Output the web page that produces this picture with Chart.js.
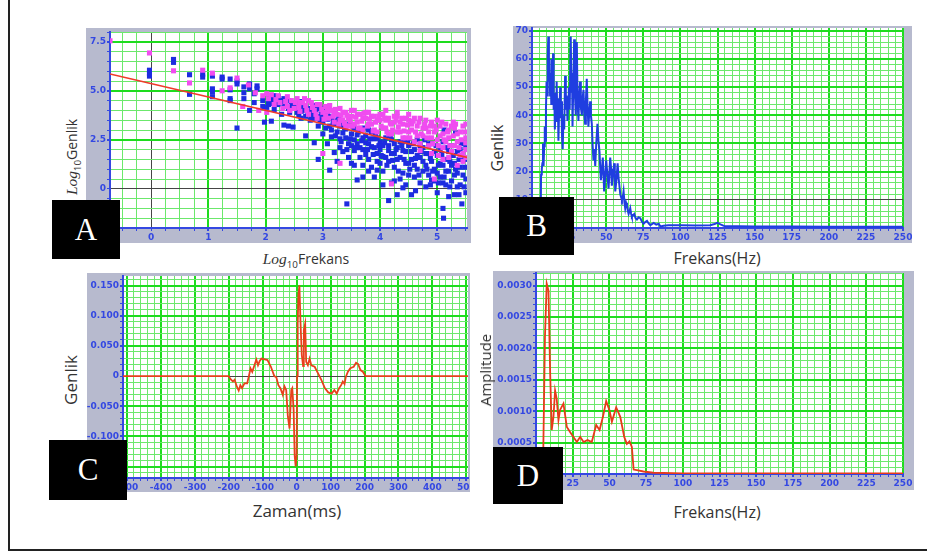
<!DOCTYPE html>
<html>
<head>
<meta charset="utf-8">
<script src="https://cdn.jsdelivr.net/npm/chart.js@4.4.0/dist/chart.umd.min.js"></script>
<style>
body{margin:0;background:#fff;width:927px;height:553px;overflow:hidden;position:relative;font-family:"Open Sans",sans-serif}
.frame{position:absolute;left:8px;top:-2px;width:940px;height:551px;border-left:2px solid #222;border-bottom:2px solid #222}
.panel{position:absolute}
.tag{position:absolute;background:#000;color:#fff;font-family:"Liberation Serif",serif;font-size:31px;display:flex;align-items:center;justify-content:center}
.ttl{position:absolute;color:#333;white-space:nowrap;transform:translate(-50%,-50%)}
.rot{transform:translate(-50%,-50%) rotate(-90deg)}
.ttl i{font-family:"Liberation Serif",serif;font-size:1.1em}
.ttl sub{font-size:0.7em}
</style>
</head>
<body>
<div class="frame"></div>

<div class="panel" style="left:86px;top:28px;width:385px;height:215px"><canvas id="chartA"></canvas></div>
<div class="panel" style="left:513px;top:26px;width:399px;height:217px"><canvas id="chartB"></canvas></div>
<div class="panel" style="left:87px;top:273px;width:383px;height:219px"><canvas id="chartC"></canvas></div>
<div class="panel" style="left:493px;top:271px;width:421px;height:219px"><canvas id="chartD"></canvas></div>

<div class="ttl rot" style="left:73px;top:157px;font-size:14px"><i>Log</i><sub>10</sub>Genlik</div>
<div class="ttl" style="left:306px;top:260px;font-size:14px"><i>Log</i><sub>10</sub>Frekans</div>
<div class="ttl rot" style="left:497px;top:148px;font-size:16px">Genlik</div>
<div class="ttl" style="left:717px;top:258px;font-size:16px">Frekans(Hz)</div>
<div class="ttl rot" style="left:70px;top:380px;font-size:17px">Genlik</div>
<div class="ttl" style="left:297px;top:510px;font-size:17px">Zaman(ms)</div>
<div class="ttl rot" style="left:485px;top:370px;font-size:15px">Amplitude</div>
<div class="ttl" style="left:717px;top:512px;font-size:16px">Frekans(Hz)</div>

<div class="tag" style="left:52px;top:200px;width:68px;height:59px">A</div>
<div class="tag" style="left:499px;top:197px;width:75px;height:58px">B</div>
<div class="tag" style="left:49px;top:440px;width:78px;height:60px">C</div>
<div class="tag" style="left:493px;top:447px;width:70px;height:57px">D</div>

<script>
// A: log-log scatter (x = log10 frekans, y = log10 genlik)
const aBlue = [[-0.03,6.05],[-0.03,5.9],[-0.03,5.75],[0.39,6.6],[0.39,6.45],[0.67,5.82],[0.67,4.82],[0.9,5.85],[0.9,5.7],[1.07,5.75],[1.07,5.1],[1.07,4.95],[1.07,4.7],[1.24,5.7],[1.24,5.6],[1.38,5.6],[1.38,5.05],[1.38,4.6],[1.38,4.5],[1.5,3.1],[1.5,5.35],[1.5,5.5],[1.62,5.2],[1.62,4.9],[1.62,4.6],[1.72,5.35],[1.72,4.0],[1.72,5.1],[1.8,4.85],[1.8,4.4],[1.85,5.25],[1.85,5.1],[1.95,4.5],[1.95,4.2],[1.98,3.4],[2.05,4.6],[2.05,4.45],[2.05,4.3],[2.1,3.45],[2.1,4.55],[2.15,4.75],[2.15,4.5],[2.15,4.05],[2.22,4.7],[2.22,4.3],[2.22,4.55],[2.28,3.8],[2.28,4.4],[2.32,4.6],[2.32,4.2],[2.32,3.25],[2.4,4.5],[2.4,4.1],[2.4,3.2],[2.48,4.4],[2.48,3.15],[2.48,4.25],[2.55,3.9],[2.55,4.35],[2.55,4.1],[2.62,4.3],[2.62,3.6],[2.62,3.95],[2.7,4.2],[2.7,3.7],[2.7,2.7],[2.7,4.0],[2.78,4.1],[2.78,3.5],[2.78,3.85],[2.85,4.25],[2.85,3.9],[2.85,2.35],[2.85,3.6],[2.92,3.7],[2.92,3.2],[2.92,1.5],[2.92,4.1],[3.0,4.1],[3.0,3.4],[3.0,2.8],[3.0,3.75],[3.08,3.9],[3.08,2.3],[3.08,3.55],[3.12,0.95],[3.12,3.2],[3.15,3.6],[3.15,3.0],[3.15,2.65],[3.2,1.85],[3.2,3.3],[3.2,3.85],[3.25,1.4],[3.25,2.9],[3.25,3.5],[3.3,2.1],[3.3,3.2],[3.3,2.55],[3.35,1.9],[3.35,3.35],[3.35,2.85],[3.42,-0.77],[3.4,2.6],[3.4,3.05],[3.45,1.6],[3.45,2.3],[3.45,3.3],[3.5,2.2],[3.5,2.8],[3.5,1.3],[3.55,2.5],[3.55,3.1],[3.55,1.95],[3.6,0.45],[3.6,2.3],[3.6,2.75],[3.65,1.6],[3.65,3.0],[3.65,2.1],[3.7,2.0],[3.7,2.6],[3.7,1.2],[3.75,2.7],[3.75,1.75],[3.75,2.35],[3.8,0.9],[3.8,2.3],[3.8,3.0],[3.8,1.5],[3.85,2.9],[3.85,1.1],[3.85,2.15],[3.9,2.1],[3.9,0.6],[3.9,2.55],[3.95,2.6],[3.95,1.8],[3.95,1.4],[4.0,1.3],[4.0,2.4],[4.0,2.0],[4.05,0.9],[4.05,2.2],[4.05,1.65],[4.1,1.6],[4.1,2.6],[4.15,-0.6],[4.15,2.2],[4.15,1.4],[4.15,1.95],[4.2,0.3],[4.2,2.5],[4.2,1.8],[4.25,1.8],[4.25,1.1],[4.25,2.3],[4.3,-0.3],[4.3,1.5],[4.3,2.1],[4.35,0.5],[4.35,1.6],[4.35,2.4],[4.4,2.4],[4.4,0.8],[4.4,1.95],[4.45,1.9],[4.45,0.2],[4.45,1.3],[4.5,1.3],[4.5,2.2],[4.5,0.7],[4.55,-0.3],[4.55,1.5],[4.55,1.9],[4.6,0.6],[4.6,2.0],[4.6,1.2],[4.65,1.0],[4.65,2.5],[4.65,1.7],[4.7,0.3],[4.7,1.6],[4.7,2.2],[4.75,0.9],[4.75,2.1],[4.75,1.4],[4.8,1.2],[4.8,0.1],[4.8,1.8],[4.85,1.8],[4.85,0.7],[4.85,2.3],[4.9,1.4],[4.9,2.3],[4.9,0.45],[4.95,0.4],[4.95,1.0],[4.95,1.9],[5.0,-0.2],[5.0,1.7],[5.0,0.8],[5.05,0.6],[5.05,2.0],[5.05,1.3],[5.1,-1.0],[5.1,1.2],[5.1,2.4],[5.1,0.3],[5.11,-1.5],[5.12,3.0],[5.15,0.2],[5.15,1.5],[5.15,0.9],[5.2,-0.4],[5.2,0.9],[5.2,1.9],[5.25,2.2],[5.25,0.4],[5.25,1.2],[5.3,1.3],[5.3,-0.3],[5.3,0.7],[5.32,2.85],[5.35,0.8],[5.35,1.9],[5.35,0.1],[5.4,0.2],[5.4,1.1],[5.4,2.0],[5.43,-0.77],[5.45,0.7],[5.45,1.5],[5.5,1.5],[5.5,-0.2],[5.5,2.1],[5.5,0.5],
  [2.02,4.15],[2.08,4.7],[2.12,4.35],[2.18,4.6],[2.25,4.5],[2.35,4.35],[2.42,3.9],[2.45,4.3],[2.52,4.2],[2.58,3.75],[2.6,4.45],[2.66,4.05],[2.74,3.95],[2.8,3.65],[2.88,4.0],[2.95,3.5],[2.98,3.95],[3.05,3.1],[3.1,3.7],[3.18,3.4],[3.22,2.7],[3.28,3.65],[3.32,2.4],[3.38,3.1],[3.42,2.0],[3.48,2.55],[3.52,3.2],[3.58,2.1],[3.62,2.9],[3.68,2.45],[3.72,3.1],[3.78,2.0],[3.82,2.55],[3.88,1.75],[3.92,2.8],[3.98,2.2],[4.02,1.7],[4.08,2.35],[4.12,1.2],[4.18,2.7],[4.22,1.45],[4.28,2.0],[4.32,0.9],[4.38,2.2],[4.42,1.5],[4.48,2.45],[4.52,1.0],[4.58,2.3],[4.62,1.55],[4.68,0.7],[4.72,1.9],[4.78,2.5],[4.82,1.0],[4.88,1.55],[4.92,0.9],[4.98,2.2],[5.02,1.2],[5.08,1.75],[5.12,0.6],[5.18,2.1],[5.22,1.4],[5.28,1.7],[5.32,1.0],[5.38,1.5],[5.42,2.3],[5.48,1.1],[5.02,0.3],[5.22,0.1],[5.38,-0.3],[4.62,-0.1],[4.88,0.2],[5.47,0.1],[4.25,0.4],[3.95,0.95],[3.7,0.6],[3.55,1.2],[4.05,0.2],[4.4,0.05]];
const aPink = [[-0.72,7.55],[-0.03,6.93],[0.39,6.02],[0.67,5.4],[0.9,6.05],[1.07,5.9],[1.24,5.0],[1.38,5.15],[1.5,5.65],[1.6,4.2],[1.7,5.3],[1.82,4.9],[1.88,4.0],[1.95,4.75],[2.02,3.9],[2.02,4.85],[2.1,4.8],[2.18,4.55],[2.25,4.4],[2.3,4.1],[2.38,4.2],[2.38,4.7],[2.45,4.5],[2.5,4.1],[2.55,4.6],[2.6,3.95],[2.6,4.4],[2.65,4.4],[2.7,4.25],[2.75,3.8],[2.75,4.5],[2.8,4.4],[2.85,4.0],[2.9,3.6],[2.9,4.3],[2.95,4.3],[3.0,1.8],[3.0,3.9],[3.05,4.2],[3.05,3.7],[3.1,3.6],[3.1,4.0],[3.15,4.0],[3.2,3.4],[3.2,3.9],[3.25,3.8],[3.3,4.1],[3.3,1.3],[3.3,3.5],[3.35,3.5],[3.35,3.9],[3.4,3.9],[3.4,3.2],[3.45,3.2],[3.45,3.6],[3.5,3.7],[3.5,4.0],[3.55,4.0],[3.55,3.3],[3.6,3.4],[3.6,3.8],[3.65,3.8],[3.65,3.1],[3.7,3.0],[3.7,3.6],[3.75,3.6],[3.75,3.9],[3.8,3.9],[3.8,3.3],[3.85,3.3],[3.85,3.7],[3.9,3.7],[3.9,3.0],[3.95,2.9],[3.95,3.5],[4.0,3.5],[4.0,3.8],[4.05,3.8],[4.05,3.1],[4.1,3.1],[4.1,3.5],[4.15,3.6],[4.15,2.8],[4.2,0.25],[4.2,2.8],[4.2,3.3],[4.25,3.4],[4.25,3.7],[4.3,3.7],[4.3,2.9],[4.35,2.9],[4.35,3.4],[4.4,3.3],[4.4,2.6],[4.45,2.6],[4.45,3.6],[4.5,3.5],[4.5,2.9],[4.55,3.0],[4.55,3.3],[4.6,2.4],[4.6,3.6],[4.65,3.2],[4.65,2.7],[4.7,3.6],[4.7,2.3],[4.75,2.7],[4.75,3.1],[4.8,3.1],[4.8,3.5],[4.85,2.2],[4.85,2.9],[4.9,3.4],[4.9,2.6],[4.95,2.9],[4.95,3.2],[5.0,2.5],[5.0,3.5],[5.05,3.2],[5.05,2.7],[5.1,2.1],[5.1,2.8],[5.15,3.3],[5.15,2.4],[5.2,2.6],[5.2,3.0],[5.25,1.9],[5.25,3.2],[5.3,3.1],[5.3,2.2],[5.35,2.4],[5.35,2.8],[5.4,2.9],[5.4,1.7],[5.45,1.8],[5.45,3.2],[5.5,2.6],[5.5,3.3],[5.5,2.0],
  [2.05,4.6],[2.15,4.3],[2.22,4.75],[2.35,4.45],[2.42,4.0],[2.52,4.4],[2.58,4.15],[2.68,4.6],[2.72,4.0],[2.82,4.15],[2.88,3.8],[2.98,4.05],[3.02,3.55],[3.08,3.95],[3.12,4.25],[3.18,3.7],[3.22,4.05],[3.28,3.3],[3.32,3.75],[3.38,3.35],[3.42,3.75],[3.48,3.45],[3.52,3.2],[3.58,3.65],[3.62,3.1],[3.68,3.45],[3.72,3.85],[3.78,3.2],[3.82,3.55],[3.88,2.95],[3.92,3.4],[3.98,3.7],[4.02,3.2],[4.08,3.6],[4.12,2.9],[4.18,3.35],[4.22,3.0],[4.28,3.5],[4.32,3.15],[4.38,3.6],[4.42,2.95],[4.48,3.25],[4.52,2.6],[4.58,3.45],[4.62,2.9],[4.68,3.4],[4.72,2.8],[4.78,3.3],[4.82,2.6],[4.88,3.2],[4.92,2.3],[4.98,3.0],[5.02,2.2],[5.08,3.4],[5.12,2.5],[5.18,2.9],[5.22,2.2],[5.28,2.7],[5.32,3.3],[5.38,2.1],[5.42,2.5],[5.48,2.9],[5.02,1.7],[5.2,1.6],[5.45,1.4],[5.35,1.2],[4.95,0.5],[4.7,1.95],[4.9,1.8],[5.1,1.5],[5.5,1.6],[5.5,2.35],[5.28,3.4],[4.5,3.8],[4.3,3.9],[4.1,4.0]];
const aFit = [[-0.72,5.86],[5.52,1.6]];
const aXLabels = [0, 1, 2, 3, 4, 5];
const aYLabels = [0, 2.5, 5, 7.5];

// B: genlik spektrumu (Hz, genlik)
const bSpec = [[0,0.5],[5.8,0.5],[6.1,19],[6.6,21],[7.0,23],[7.4,30],[7.8,22],[8.2,29],[8.6,36],[9.0,31],[9.4,42],[9.8,52],[10.2,47],[10.6,61],[11.0,68],[11.4,52],[11.8,60],[12.2,47],[12.6,55],[13.0,44],[13.4,60],[13.8,50],[14.2,62],[14.6,42],[15.0,48],[15.4,35],[15.8,44],[16.2,38],[16.6,52],[17.0,41],[17.4,46],[17.8,31],[18.2,40],[18.6,44],[19.0,50],[19.4,39],[19.8,45],[20.2,33],[20.7,28],[21.2,40],[21.7,35],[22.3,54],[22.8,42],[23.4,47],[23.9,38],[24.4,45],[24.8,50],[25.4,42],[26.1,68],[26.6,48],[27.0,55],[27.3,36],[27.8,50],[28.4,67],[28.9,48],[29.5,40],[29.9,55],[30.2,66],[30.7,45],[31.3,38],[31.8,47],[32.4,52],[32.9,43],[33.6,40],[34.1,46],[34.7,49],[35.2,41],[35.8,37],[36.3,45],[36.9,53],[37.4,44],[38.0,36],[38.6,41],[39.2,45],[39.7,40],[40.3,37],[40.8,30],[41.4,24],[42.0,28],[42.6,22],[43.3,30],[44.1,37],[44.8,31],[45.5,27],[46.0,21],[46.4,17],[47.0,20],[47.7,25],[48.2,19],[48.6,13],[49.3,18],[50.0,24],[50.8,19],[51.6,14],[52.2,20],[52.7,25],[53.3,21],[53.8,15],[54.6,19],[55.4,23],[55.8,18],[56.1,13],[56.9,17],[57.7,23],[58.3,18],[58.9,15],[59.5,12],[60.0,11],[60.6,10],[61.2,11],[61.7,13],[62.3,9],[62.8,7],[63.4,9],[64.0,8],[64.6,6],[65.1,5],[65.7,6],[66.2,7],[66.8,5],[67.3,4],[68.1,4.5],[68.9,5],[69.8,3.5],[70.7,3],[71.8,3.8],[73.0,3.5],[74.1,2.2],[75.2,1.5],[76.3,2.1],[77.5,2.5],[78.6,1.6],[79.7,1],[80.8,1.4],[82.0,1.8],[83.7,1.2],[85.4,1.5],[86.5,0.5],[88.7,0.8],[92,1.0],[100,1.0],[110,0.9],[120,1.0],[123,1.4],[125,1.8],[127,1.3],[130,0.6],[140,0.6],[150,0.5],[175,0.5],[200,0.4],[225,0.4],[250,0.4]];
const bXLabels = [25, 50, 75, 100, 125, 150, 175, 200, 225, 250];
const bYLabels = [10, 20, 30, 40, 50, 60, 70];

// C: dalgacik (ms, genlik)
const cWave = [[-512,0],[-201,0],[-194,-0.0055],[-188,-0.009],[-183,-0.006],[-176,-0.018],[-171,-0.024],[-166,-0.015],[-161,-0.02],[-154,-0.012],[-146,-0.012],[-141,0],[-136,0.0127],[-131,0.007],[-126,0.0155],[-119,0.0276],[-114,0.018],[-109,0.025],[-104,0.029],[-94,0.0276],[-86,0.0265],[-76,0.0155],[-66,0],[-60,-0.002],[-54,-0.015],[-48,-0.02],[-41,-0.031],[-36,-0.017],[-31,-0.023],[-26,-0.067],[-21,-0.087],[-16,-0.023],[-13,-0.02],[-9,-0.056],[-6,-0.131],[-3,-0.15],[0,-0.131],[1,0],[3,0.087],[5,0.134],[8,0.1507],[11,0.093],[15,0.035],[19,0.0165],[21,0.076],[25,0.087],[28,0.0237],[33,0.018],[38,0.029],[43,0.018],[53,0.0155],[63,0.0044],[73,-0.0066],[83,-0.02],[93,-0.027],[103,-0.029],[111,-0.023],[118,-0.029],[125,-0.02],[131,-0.015],[136,-0.009],[141,-0.013],[145,-0.001],[151,0.0072],[158,0.013],[168,0.0155],[175,0.022],[181,0.02],[188,0.01],[195,0.0072],[203,0],[505,0]];
const cXLabels = [-500, -400, -300, -200, -100, 0, 100, 200, 300, 400, 500];
const cYLabels = [-0.15, -0.1, -0.05, 0, 0.05, 0.1, 0.15];

// D: amplitude spektrumu (Hz, amplitude)
const dSpec = [[0,0],[4.5,0],[5.0,0.00043],[6.1,0.00218],[7.3,0.00303],[8.5,0.00292],[9.6,0.00165],[10.7,0.0007],[11.9,0.00091],[13,0.00133],[14.1,0.0012],[15.3,0.00086],[16.4,0.00102],[18.7,0.00112],[21,0.00075],[23.2,0.00067],[25.5,0.00059],[27.8,0.00051],[30.1,0.00059],[32.4,0.00051],[35.1,0.00054],[38,0.00051],[41,0.00078],[43.3,0.0007],[45.6,0.00091],[47.8,0.00116],[50.1,0.00101],[51.7,0.00083],[54.6,0.00106],[57.4,0.00091],[60.1,0.00059],[61.9,0.00048],[63.7,0.00052],[65.3,0.00043],[66.5,0.00007],[68.7,0.00006],[73.2,0.00004],[80,0.00002],[100,0.00001],[250,0.00001]];
const dXLabels = [0, 25, 50, 75, 100, 125, 150, 175, 200, 225, 250];
const dYLabels = [0, 0.0005, 0.001, 0.0015, 0.002, 0.0025, 0.003];

const TICK_BLUE = '#3448e2';
const GRAY = '#b7bace';
const MAJOR = '#1edc1e';
const MINOR = '#6ce86c';
const ZERO = '#454545';

Chart.defaults.animation = false;
Chart.defaults.plugins.legend.display = false;
Chart.defaults.plugins.tooltip.enabled = false;

function near(a, b) { return Math.abs(a - b) < 1e-9; }
function isMajor(v, m) { const r = v / m; return Math.abs(r - Math.round(r)) < 1e-6; }
function stepTicks(min, max, step) {
  const out = [];
  for (let k = Math.ceil(min / step - 1e-6); k * step <= max + 1e-9; k++) {
    out.push({ value: +(k * step).toFixed(6) });
  }
  return out;
}

function axis(o) {
  return {
    type: 'linear', position: o.pos, min: o.min, max: o.max,
    afterBuildTicks: s => { s.ticks = stepTicks(o.min, o.max, o.step); },
    afterFit: s => {
      if (o.pos === 'left') { s.width = o.size; s.paddingTop = 0; s.paddingBottom = 0; }
      else { s.height = o.size; s.paddingLeft = 0; s.paddingRight = 0; }
    },
    grid: {
      color: c => {
        const v = c.tick.value;
        if (o.zero !== undefined && near(v, o.zero)) return ZERO;
        return isMajor(v, o.major) ? MAJOR : MINOR;
      },
      lineWidth: c => {
        const v = c.tick.value;
        if (o.zero !== undefined && near(v, o.zero)) return 1;
        return isMajor(v, o.major) ? 2 : 1;
      },
      tickColor: TICK_BLUE, tickLength: 3
    },
    border: { color: TICK_BLUE, width: 2 },
    ticks: {
      autoSkip: false, maxRotation: 0, padding: 1, color: TICK_BLUE,
      font: { family: 'DejaVu Sans', size: 9, weight: 'bold' },
      callback: v => o.labels.some(l => near(l, v)) ? o.fmt(v) : ''
    }
  };
}

const bgPlugin = {
  id: 'bg',
  beforeDraw(ch) {
    const c = ch.ctx, a = ch.chartArea;
    c.save();
    c.fillStyle = GRAY;
    c.fillRect(0, 0, ch.width, ch.height);
    c.fillStyle = '#fff';
    c.fillRect(a.left, a.top, a.right - a.left, a.bottom - a.top);
    c.restore();
  }
};

function make(id, datasets, x, y, pad) {
  return new Chart(document.getElementById(id), {
    type: 'scatter',
    data: { datasets: datasets },
    options: {
      responsive: true, maintainAspectRatio: false, devicePixelRatio: 1,
      layout: { padding: pad },
      scales: { x: axis(x), y: axis(y) }
    },
    plugins: [bgPlugin]
  });
}

function lineSet(data, color, w) {
  return { type: 'line', data: data, borderColor: color, borderWidth: w, pointRadius: 0, tension: 0, clip: 0, order: 0 };
}

make('chartA', [
  lineSet(aFit, '#f03a2a', 1.6),
  { data: aPink, backgroundColor: '#f04cf0', pointStyle: 'rect', pointRadius: 3.6, borderWidth: 0, order: 1, clip: 0 },
  { data: aBlue, backgroundColor: '#1d2ce0', pointStyle: 'rect', pointRadius: 3.6, borderWidth: 0, order: 2, clip: 0 }
],
  { pos: 'bottom', min: -0.72, max: 5.52, step: 0.25, major: 1, zero: 0, labels: aXLabels, fmt: v => String(v), size: 15 },
  { pos: 'left', min: -2, max: 8, step: 0.5, major: 2.5, zero: 0, labels: aYLabels, fmt: v => v === 0 ? '0' : v.toFixed(1), size: 24 },
  { top: 0, right: 4, left: 0, bottom: 0 });

make('chartB', [lineSet(bSpec, '#1f3ee0', 2)],
  { pos: 'bottom', min: 0, max: 250, step: 5, major: 25, labels: bXLabels, fmt: v => String(v), size: 15 },
  { pos: 'left', min: 0, max: 71, step: 2, major: 10, zero: 10, labels: bYLabels, fmt: v => String(v), size: 19 },
  { top: 2, right: 9, left: 0, bottom: 0 });

make('chartC', [lineSet(cWave, '#e8401c', 1.8)],
  { pos: 'bottom', min: -512, max: 505, step: 20, major: 100, labels: cXLabels, fmt: v => String(v), size: 14 },
  { pos: 'left', min: -0.169, max: 0.166, step: 0.01, major: 0.05, zero: 0, labels: cYLabels, fmt: v => v === 0 ? '0' : v.toFixed(3), size: 36 },
  { top: 3, right: 2, left: 0, bottom: 0 });

make('chartD', [lineSet(dSpec, '#e83a1a', 1.8)],
  { pos: 'bottom', min: 0, max: 250, step: 5, major: 25, labels: dXLabels, fmt: v => String(v), size: 16 },
  { pos: 'left', min: 0, max: 0.0032, step: 0.0001, major: 0.0005, labels: dYLabels, fmt: v => v === 0 ? '0' : v.toFixed(4), size: 43 },
  { top: 2, right: 11, left: 0, bottom: 0 });
</script>
</body>
</html>
